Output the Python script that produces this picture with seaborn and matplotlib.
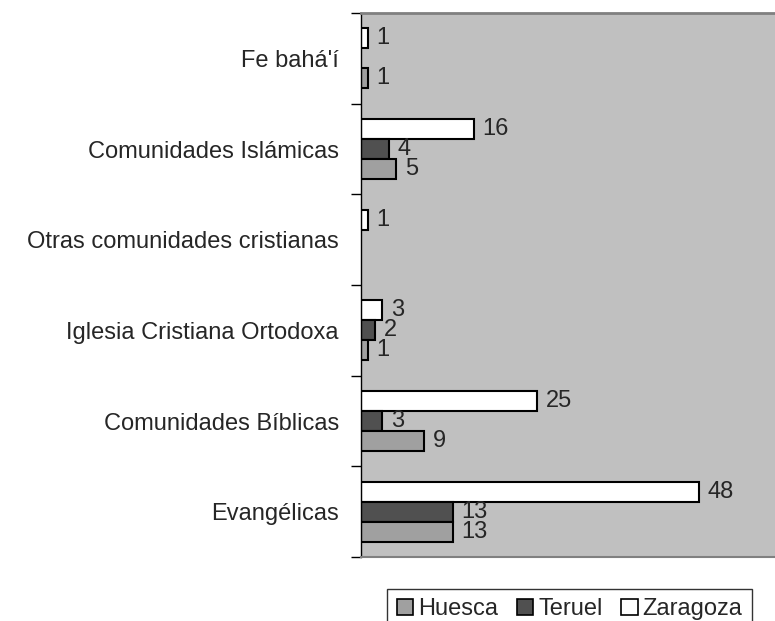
import pandas as pd
import matplotlib
matplotlib.use("Agg")
import matplotlib.pyplot as plt
import seaborn as sns
from matplotlib.patches import Patch

categorias = ["Fe bahá'í", "Comunidades Islámicas", "Otras comunidades cristianas",
              "Iglesia Cristiana Ortodoxa", "Comunidades Bíblicas", "Evangélicas"]
huesca = [1, 5, 0, 1, 9, 13]
teruel = [0, 4, 0, 2, 3, 13]
zaragoza = [1, 16, 1, 3, 25, 48]

provincias = ["Huesca", "Teruel", "Zaragoza"]
colores = {"Huesca": "#a0a0a0", "Teruel": "#505050", "Zaragoza": "#ffffff"}

filas = []
for prov, vals in zip(provincias, [huesca, teruel, zaragoza]):
    for cat, v in zip(categorias, vals):
        if v > 0:
            filas.append({"categoria": cat, "provincia": prov, "n": v})
df = pd.DataFrame(filas)

sns.set_style("white")
plt.rcParams['font.family'] = ['Liberation Sans', 'DejaVu Sans']

fig = plt.figure(figsize=(7.75, 6.21), dpi=100)
ax = fig.add_axes([0.466, 0.103, 0.534, 0.876])
ax.set_facecolor("#c0c0c0")

# orden de arriba a abajo dentro de cada grupo
orden_hue = ["Zaragoza", "Teruel", "Huesca"]
sns.barplot(data=df, y="categoria", x="n", hue="provincia", order=categorias,
            hue_order=orden_hue, palette=colores, width=0.66, orient="h",
            edgecolor="black", linewidth=1.5, ax=ax, legend=False)

for cont in ax.containers:
    ax.bar_label(cont, padding=6, fontsize=17)

ax.set_xlim(0, 58.8)
ax.set_ylim(5.5, -0.5)
ax.set_xlabel("")
ax.set_ylabel("")
ax.set_xticks([])
ax.set_yticks(range(len(categorias)))
ax.set_yticklabels(categorias, fontsize=17)
ax.tick_params(axis="y", which="major", length=0, pad=16)
ax.set_yticks([i - 0.5 for i in range(len(categorias) + 1)], minor=True)
ax.tick_params(axis="y", which="minor", length=7, width=1, color="black", left=True)

ax.spines["left"].set_color("black")
ax.spines["left"].set_linewidth(1)
ax.spines["top"].set_color("#808080")
ax.spines["top"].set_linewidth(2)
ax.spines["bottom"].set_color("#808080")
ax.spines["bottom"].set_linewidth(1.5)
ax.spines["right"].set_visible(False)

manejadores = [Patch(facecolor=colores[p], edgecolor="black", linewidth=1.2, label=p)
               for p in provincias]
leg = fig.legend(handles=manejadores, loc="upper center", bbox_to_anchor=(0.735, 0.071),
                 ncol=3, fontsize=17, frameon=True, fancybox=False, handlelength=0.7,
                 handleheight=0.7, handletextpad=0.2, columnspacing=0.8,
                 borderpad=0.4)
leg.get_frame().set_edgecolor("black")
leg.get_frame().set_linewidth(1)

fig.savefig("out.png", dpi=100)
